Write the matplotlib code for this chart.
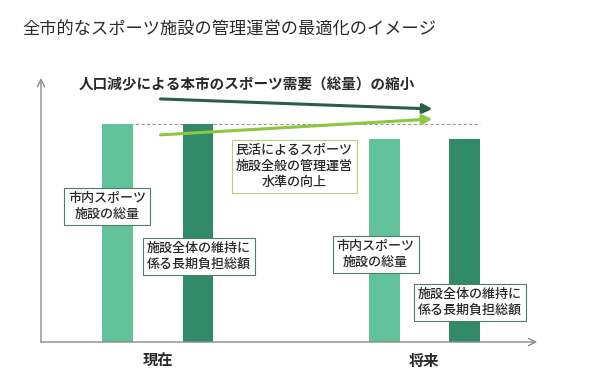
import matplotlib.pyplot as plt

plt.rcParams['font.family'] = ['Noto Sans CJK JP', 'DejaVu Sans']

# data
periods = ['現在', '将来']
facility_total = [100, 93]      # 市内スポーツ施設の総量
burden_total = [100, 93]        # 施設全体の維持に係る長期負担総額
demand_trend = [111.5, 106.9]   # 人口減少によるスポーツ需要の縮小
service_trend = [95.0, 102.3]   # 民活による管理運営水準の向上
trend_x = [0.01, 1.03]

title = '全市的なスポーツ施設の管理運営の最適化のイメージ'
demand_label = '人口減少による本市のスポーツ需要（総量）の縮小'
service_label = '民活によるスポーツ\n施設全般の管理運営\n水準の向上'
facility_label = '市内スポーツ\n施設の総量'
burden_label = '施設全体の維持に\n係る長期負担総額'

LIGHT = '#62c29c'
DARK = '#318a69'
DARK_ARROW = '#2b5e46'
LIGHT_ARROW = '#8dc63f'
AXIS = '#8a8a8a'
TEXT = '#2a2a2a'

fig = plt.figure(figsize=(6, 3.75), dpi=100)
ax = fig.add_axes([0.0683, 0.088, 0.827, 0.704])

x = range(len(periods))
off = 0.151
w = 0.116
ax.bar([i - off for i in x], facility_total, width=w, color=LIGHT, zorder=2)
ax.bar([i + off for i in x], burden_total, width=w, color=DARK, zorder=2)

ax.set_xlim(-0.438, 1.423)
ax.set_ylim(0, 121.1)

# reference level of today's total
ax.hlines(facility_total[0], -off - w / 2, 1 + off + w / 2, colors='#9a9a9a',
          linestyles=(0, (3, 2)), lw=0.8, zorder=1)

# axes with open arrow heads
for s in ax.spines.values():
    s.set_visible(False)
ax.annotate('', xy=(0, 1), xytext=(0, 0), xycoords='axes fraction',
            arrowprops=dict(arrowstyle='->', color=AXIS, lw=1, shrinkA=0, shrinkB=0,
                            mutation_scale=13))
ax.annotate('', xy=(1, 0), xytext=(0, 0), xycoords='axes fraction',
            arrowprops=dict(arrowstyle='->', color=AXIS, lw=1, shrinkA=0, shrinkB=0,
                            mutation_scale=13))
ax.set_yticks([])
ax.set_xticks(list(x), periods, fontsize=11, fontweight='bold', color=TEXT)
ax.tick_params(axis='x', length=0, pad=8)

# trend arrows
ax.annotate('', xy=(trend_x[1], demand_trend[1]), xytext=(trend_x[0], demand_trend[0]),
            arrowprops=dict(arrowstyle='-|>', color=DARK_ARROW, lw=2.2,
                            mutation_scale=14, shrinkA=0, shrinkB=0), zorder=4)
ax.annotate('', xy=(trend_x[1], service_trend[1]), xytext=(trend_x[0], service_trend[0]),
            arrowprops=dict(arrowstyle='-|>', color=LIGHT_ARROW, lw=2.2,
                            mutation_scale=14, shrinkA=0, shrinkB=0), zorder=4)

# labels
box_kw = dict(fontsize=9.4, fontweight='medium', color=TEXT, ha='center', va='center',
              linespacing=1.3, zorder=5)


def label(xp, yp, s, edge):
    ax.text(xp, yp, s, bbox=dict(boxstyle='square,pad=0.3', fc='white', ec=edge, lw=0.8),
            **box_kw)


label(-0.19, 62.2, facility_label, '#4f7f6c')
label(0.155, 39.2, burden_label, '#4f7f6c')
label(0.512, 80.5, service_label, '#b7cc8c')
label(0.817, 40.1, facility_label, '#4f7f6c')
label(1.170, 18.1, burden_label, '#4f7f6c')

fig.text(79 / 600, 1 - 85 / 375, demand_label, fontsize=10.5, fontweight='bold',
         color=TEXT, ha='left', va='center')
fig.text(22 / 600, 1 - 30 / 375, title, fontsize=12.4, color=TEXT, ha='left', va='center')

fig.savefig('out.png', dpi=100)
